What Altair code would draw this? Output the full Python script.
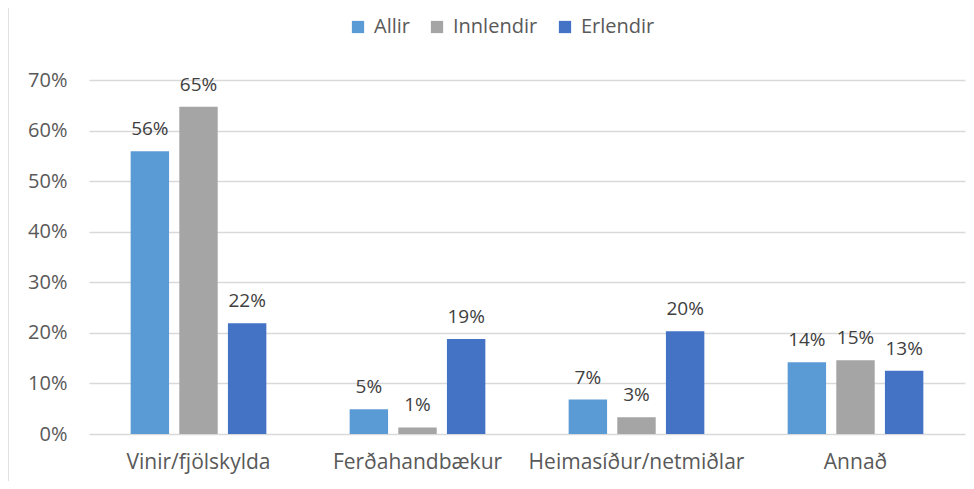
import altair as alt
import pandas as pd

categories = ["Vinir/fjölskylda", "Ferðahandbækur", "Heimasíður/netmiðlar", "Annað"]
series = ["Allir", "Innlendir", "Erlendir"]
allir = [0.559, 0.049, 0.068, 0.142]
innlendir = [0.647, 0.013, 0.033, 0.146]
erlendir = [0.219, 0.188, 0.203, 0.125]
colors = ["#5B9BD5", "#A5A5A5", "#4472C4"]

rows = []
for i, c in enumerate(categories):
    for s, vals in zip(series, [allir, innlendir, erlendir]):
        rows.append({"cat": c, "series": s, "value": vals[i]})
df = pd.DataFrame(rows)

FONT = "Open Sans"
GRAY = "#595959"
FS = 20

x = alt.X("cat:N", sort=categories, title=None,
          scale=alt.Scale(paddingInner=0.336, paddingOuter=0.168),
          axis=alt.Axis(labelAngle=0, labelFont=FONT, labelFontSize=21, labelColor=GRAY,
                        ticks=False, domain=False, labelPadding=17, labelLimit=0))
xo = alt.XOffset("series:N", sort=series,
                 scale=alt.Scale(paddingInner=0.21, paddingOuter=0.1))

base = alt.Chart(df)

bars = base.mark_bar().encode(
    x=x, xOffset=xo,
    y=alt.Y("value:Q", title=None,
            scale=alt.Scale(domain=[0, 0.7]),
            axis=alt.Axis(format=".0%", values=[0, .1, .2, .3, .4, .5, .6, .7],
                          labelFont=FONT, labelFontSize=FS, labelColor=GRAY,
                          ticks=False, domain=False, gridColor="#D9D9D9", gridWidth=1.3,
                          labelPadding=22)),
    color=alt.Color("series:N", sort=series,
                    scale=alt.Scale(domain=series, range=colors),
                    legend=alt.Legend(title=None, orient="none", direction="horizontal",
                                      legendX=259, legendY=-63, symbolType="square",
                                      symbolSize=150, labelFont=FONT, labelFontSize=FS,
                                      labelColor=GRAY, columnPadding=17, symbolStrokeWidth=0,
                                      labelOffset=6)),
)

labels = base.mark_text(baseline="bottom", dy=-12, font=FONT, fontSize=19, color="#404040").encode(
    x=x, xOffset=xo, y="value:Q",
    text=alt.Text("value:Q", format=".0%"),
)

border = alt.Chart(pd.DataFrame({"a": [0]})).mark_rule(color="#D9D9D9", strokeWidth=1.5).encode(
    x=alt.value(-81), y=alt.value(-80), y2=alt.value(420)
)

chart = (bars + labels + border).properties(
    width=876, height=354,
    autosize=alt.AutoSizeParams(type="none"),
    padding={"left": 81, "top": 72, "right": 1, "bottom": 47},
).configure_view(stroke=None)

chart.save("out.html", embed_options={"renderer": "svg", "actions": False})
